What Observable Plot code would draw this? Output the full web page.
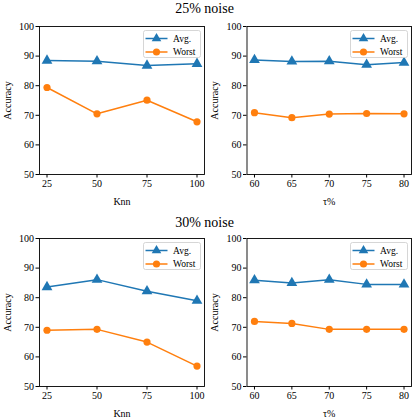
<!DOCTYPE html>
<html>
<head>
<meta charset="utf-8">
<script src="https://cdn.jsdelivr.net/npm/d3@7"></script>
<script src="https://cdn.jsdelivr.net/npm/@observablehq/plot@0.6"></script>
<style>
  html, body { margin: 0; padding: 0; background: white; }
  #root { position: relative; width: 415px; height: 420px; background: white; font-family: "Liberation Serif", serif; }
  .panel { position: absolute; }
  .panel svg, .panel svg text { font-family: "Liberation Serif", serif !important; }
  .title { position: absolute; width: 415px; left: 0; text-align: center; font-size: 14px; color: black; }
</style>
</head>
<body>
<div id="root"></div>
<script>
// ---- data ----
const titles = ["25% noise", "30% noise"];
const seriesNames = ["Avg.", "Worst"];
const seriesColors = ["#1f77b4", "#ff7f0e"];
const knnValues = [25, 50, 75, 100];
const tauValues = [60, 65, 70, 75, 80];
const yTicks = [50, 60, 70, 80, 90, 100];

const avgKnn25 = [88.5, 88.3, 86.8, 87.4];
const worstKnn25 = [79.4, 70.5, 75.1, 67.8];
const avgTau25 = [88.7, 88.2, 88.3, 87.1, 87.8];
const worstTau25 = [70.9, 69.2, 70.4, 70.6, 70.5];

const avgKnn30 = [83.6, 86.1, 82.2, 79.0];
const worstKnn30 = [69.0, 69.3, 65.0, 56.9];
const avgTau30 = [85.9, 85.0, 86.1, 84.5, 84.5];
const worstTau30 = [72.0, 71.3, 69.3, 69.3, 69.3];

const root = document.getElementById("root");

function makePanel(left, top, width, height, ml, mr, mt, mb, xs, avg, worst, xlabel, xdomain) {
  const rows = [];
  xs.forEach((x, i) => rows.push({x, y: avg[i], s: seriesNames[0]}));
  xs.forEach((x, i) => rows.push({x, y: worst[i], s: seriesNames[1]}));
  const avgRows = rows.filter(d => d.s === seriesNames[0]);
  const worstRows = rows.filter(d => d.s === seriesNames[1]);
  const chart = Plot.plot({
    width, height,
    marginLeft: ml, marginRight: mr, marginTop: mt, marginBottom: mb,
    style: { fontFamily: "Liberation Serif, serif", fontSize: "10px", color: "black", background: "transparent", overflow: "visible" },
    x: { domain: xdomain, ticks: xs, tickSize: 3.5, tickPadding: 2, label: xlabel, labelAnchor: "center", labelArrow: "none" },
    y: { domain: [50, 100], ticks: yTicks, tickSize: 3.5, tickPadding: 2, label: "Accuracy", labelAnchor: "center", labelArrow: "none", labelOffset: 36 },
    marks: [
      Plot.line(avgRows, { x: "x", y: "y", stroke: seriesColors[0], strokeWidth: 1.5 }),
      Plot.dot(avgRows, { x: "x", y: "y", fill: seriesColors[0], symbol: "triangle", r: 4 }),
      Plot.line(worstRows, { x: "x", y: "y", stroke: seriesColors[1], strokeWidth: 1.5 }),
      Plot.dot(worstRows, { x: "x", y: "y", fill: seriesColors[1], symbol: "circle", r: 3.6 }),
      Plot.frame({ stroke: "black", strokeWidth: 0.9 })
    ]
  });
  const wrap = document.createElement("div");
  wrap.className = "panel";
  wrap.style.left = left + "px";
  wrap.style.top = top + "px";
  wrap.appendChild(chart);
  root.appendChild(wrap);

  // legend overlay, anchored to the upper right corner of the frame
  const frameRight = left + width - mr;
  const frameTop = top + mt;
  const bw = 57, bh = 27;
  const lg = d3.select(root).append("svg")
    .attr("width", bw + 2).attr("height", bh + 2)
    .style("position", "absolute")
    .style("left", (frameRight - 4.5 - bw) + "px")
    .style("top", (frameTop + 4) + "px");
  lg.append("rect").attr("x", 0.5).attr("y", 0.5).attr("width", bw).attr("height", bh)
    .attr("rx", 2).attr("fill", "white").attr("fill-opacity", 0.8).attr("stroke", "#cccccc").attr("stroke-width", 0.8);
  const sym = [d3.symbol(d3.symbolTriangle, 40), d3.symbol(d3.symbolCircle, 40)];
  seriesNames.forEach((name, i) => {
    const cy = 8.5 + i * 13.5;
    lg.append("line").attr("x1", 2.5).attr("x2", 24.5).attr("y1", cy).attr("y2", cy)
      .attr("stroke", seriesColors[i]).attr("stroke-width", 1.5);
    lg.append("path").attr("d", sym[i]()).attr("transform", `translate(13.5,${cy})`).attr("fill", seriesColors[i]);
    lg.append("text").attr("x", 30).attr("y", cy).attr("dy", "0.35em")
      .style("font-family", "Liberation Serif, serif").attr("font-size", 9.5).attr("fill", "black").text(name);
  });
}

function addTitle(text, top) {
  const t = document.createElement("div");
  t.className = "title";
  t.style.top = top + "px";
  t.style.left = "-3px";
  t.textContent = text;
  root.appendChild(t);
}

addTitle(titles[0], 1);
addTitle(titles[1], 215);

makePanel(0, 0, 207, 207, 39, 3, 26, 33, knnValues, avgKnn25, worstKnn25, "Knn", [21.25, 103.75]);
makePanel(207, 0, 208, 207, 39.5, 4, 26, 33, tauValues, avgTau25, worstTau25, "τ%", [59, 81]);
makePanel(0, 212, 207, 207, 39, 3, 26, 33, knnValues, avgKnn30, worstKnn30, "Knn", [21.25, 103.75]);
makePanel(207, 212, 208, 207, 39.5, 4, 26, 33, tauValues, avgTau30, worstTau30, "τ%", [59, 81]);
</script>
</body>
</html>
